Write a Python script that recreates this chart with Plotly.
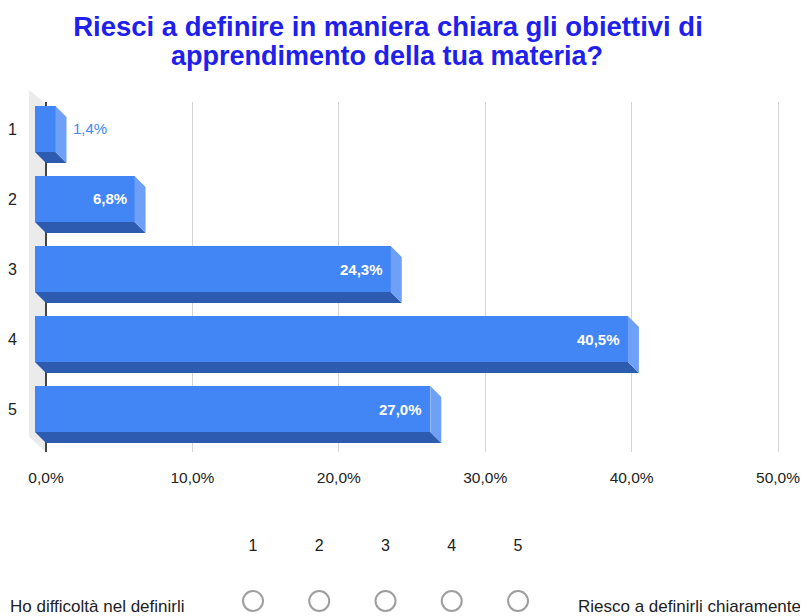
import plotly.graph_objects as go

# ---------------- data ----------------
categories = ["1", "2", "3", "4", "5"]
percentages = [1.4, 6.8, 24.3, 40.5, 27.0]
value_labels = ["1,4%", "6,8%", "24,3%", "40,5%", "27,0%"]
x_ticks = [0, 10, 20, 30, 40, 50]
x_tick_labels = ["0,0%", "10,0%", "20,0%", "30,0%", "40,0%", "50,0%"]
scale_points = [1, 2, 3, 4, 5]
scale_labels = ["1", "2", "3", "4", "5"]
scale_left = "Ho difficoltà nel definirli"
scale_right = "Riesco a definirli chiaramente"
title_lines = ["Riesci a definire in maniera chiara gli obiettivi di",
               "apprendimento della tua materia?"]

# ---------------- layout geometry (reference pixel coords) ----------------
OFF = 8                      # page body margin
W, H = 808 - OFF, 616 - OFF  # figure size
PL, PR = 30, 790             # plot area left/right in page pixels
ML, MR = PL - OFF, (W + OFF) - PR
PW = W - ML - MR
PX_PER_PCT = 14.64
X0_PX = 46
SLOT_PX = 70.0
DEPTH_PX = 11.0
FACE_PX = 46.0
FIRST_CENTER_PX = 129.0
PLOT_TOP_PX, PLOT_BOT_PX = 102.0, 452.0

d = DEPTH_PX / PX_PER_PCT          # depth in x units
dy = DEPTH_PX / SLOT_PX            # depth in y units
bw = FACE_PX / SLOT_PX             # bar face width in y units

x_range = [-(X0_PX - PL) / PX_PER_PCT, (PR - X0_PX) / PX_PER_PCT]
y_top = 1 + (PLOT_TOP_PX - FIRST_CENTER_PX) / SLOT_PX
y_bot = 1 + (PLOT_BOT_PX - FIRST_CENTER_PX) / SLOT_PX


def px(xp):
    return (xp - PL) / PW


def py(yp):
    return (H - (yp - OFF)) / H


FONT = "Arial, Liberation Sans, sans-serif"
BLUE = "#4285F4"
DARK = "#2D5BAF"
SIDE = "#6FA0F7"

ypos = [i + 1 for i in range(len(categories))]

fig = go.Figure()

# front faces
fig.add_trace(go.Bar(
    orientation="h", y=ypos, x=percentages, base=[-d] * len(percentages),
    width=bw, marker=dict(color=BLUE, line=dict(width=0)),
    hoverinfo="skip", showlegend=False, xaxis="x", yaxis="y"))

# bottom faces and side faces
bx, by, sx, sy = [], [], [], []
for y, v in zip(ypos, percentages):
    t, b = y - bw / 2, y + bw / 2
    bx += [-d, v - d, v, 0, -d, None]
    by += [b, b, b + dy, b + dy, b, None]
    sx += [v - d, v, v, v - d, v - d, None]
    sy += [t, t + dy, b + dy, b, t, None]
fig.add_trace(go.Scatter(x=bx, y=by, fill="toself", fillcolor=DARK, mode="lines",
                         line=dict(width=0, color=DARK), hoverinfo="skip",
                         showlegend=False, xaxis="x", yaxis="y"))
fig.add_trace(go.Scatter(x=sx, y=sy, fill="toself", fillcolor=SIDE, mode="lines",
                         line=dict(width=0, color=SIDE), hoverinfo="skip",
                         showlegend=False, xaxis="x", yaxis="y"))

# Likert scale
fig.add_trace(go.Scatter(x=scale_points, y=[1] * len(scale_points), mode="text",
                         text=scale_labels, textfont=dict(family=FONT, size=16, color="#202124"),
                         hoverinfo="skip", showlegend=False, xaxis="x2", yaxis="y2"))
fig.add_trace(go.Scatter(x=scale_points, y=[0] * len(scale_points), mode="markers",
                         marker=dict(symbol="circle", size=20, color="rgba(0,0,0,0)",
                                     line=dict(color="#9e9e9e", width=2)),
                         hoverinfo="skip", showlegend=False, xaxis="x2", yaxis="y2"))

annotations = []
for y, v, lab in zip(ypos, percentages, value_labels):
    if v < 5:
        annotations.append(dict(x=v, y=y, xref="x", yref="y", text=lab, showarrow=False,
                                xanchor="left", xshift=4,
                                font=dict(family=FONT, size=15, color=BLUE)))
    else:
        annotations.append(dict(x=v - d, y=y, xref="x", yref="y", text=lab, showarrow=False,
                                xanchor="right", xshift=-6,
                                font=dict(family=FONT, size=15, color="white", weight="bold")))

annotations.append(dict(x=px(387), y=py(56), xref="paper", yref="paper",
                        text=title_lines[1], showarrow=False, xanchor="center", yanchor="middle",
                        font=dict(family=FONT, size=27, color="#2020EE", weight="bold")))
annotations.append(dict(x=px(OFF), y=py(606), xref="paper", yref="paper", text=scale_left,
                        showarrow=False, xanchor="left", yanchor="middle",
                        font=dict(family=FONT, size=17, color="#202124")))
annotations.append(dict(x=px(576), y=py(606), xref="paper", yref="paper", text=scale_right,
                        showarrow=False, xanchor="left", yanchor="middle",
                        font=dict(family=FONT, size=17, color="#202124")))

wall = "M {} {} L {} {} L {} {} L {} {} Z".format(
    px(29), py(90), px(46), py(104), px(46), py(452), px(29), py(437))

# Likert axis ranges
LK_TOP, LK_NUM, LK_CIRC = 525.0, 547.0, 601.0
lk_unit = LK_CIRC - LK_NUM
x2_lo = 1 - (253 - PL) / 66.25
x2_hi = x2_lo + PW / 66.25

fig.update_layout(
    width=W, height=H, autosize=False,
    margin=dict(l=ML, r=MR, t=0, b=0, pad=0),
    paper_bgcolor="white", plot_bgcolor="white",
    title=dict(text=title_lines[0], x=(388 - OFF) / W, y=1 - (26 - OFF) / H,
               xref="container", yref="container", xanchor="center", yanchor="middle",
               font=dict(family=FONT, size=27.5, color="#2020EE", weight="bold")),
    bargap=0,
    xaxis=dict(domain=[0, 1], anchor="y", range=x_range, tickvals=x_ticks,
               ticktext=x_tick_labels, showgrid=True, gridcolor="#d4d4d4", gridwidth=1,
               zeroline=True, zerolinecolor="#444444", zerolinewidth=1.5,
               showline=False, ticks="", ticklabelstandoff=14,
               tickfont=dict(family=FONT, size=15.5, color="#222222"), fixedrange=True),
    yaxis=dict(domain=[py(PLOT_BOT_PX), py(PLOT_TOP_PX)], anchor="x",
               range=[y_bot, y_top], tickvals=ypos, ticktext=categories,
               showgrid=False, zeroline=False, showline=False, ticks="",
               ticklabelstandoff=12,
               tickfont=dict(family=FONT, size=16, color="#222222"), fixedrange=True),
    xaxis2=dict(domain=[0, 1], anchor="y2", range=[x2_lo, x2_hi], visible=False),
    yaxis2=dict(domain=[0, py(LK_TOP)], anchor="x2",
                range=[-(616 - LK_CIRC) / lk_unit, 1 + (LK_NUM - LK_TOP) / lk_unit],
                visible=False),
    shapes=[dict(type="path", path=wall, xref="paper", yref="paper",
                 fillcolor="#ebebeb", line=dict(width=0), layer="below")],
    annotations=annotations,
)

fig.write_html("out.html", default_width=f"{W}px", default_height=f"{H}px")
